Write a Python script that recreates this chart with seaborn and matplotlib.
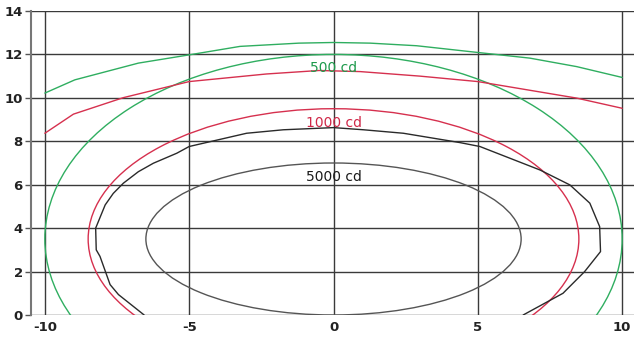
import matplotlib
matplotlib.use("Agg")
import matplotlib.pyplot as plt
from matplotlib.patches import Ellipse
import seaborn as sns
import pandas as pd

sns.set_theme(style="white")
plt.rcParams['font.family'] = ['DejaVu Sans']

# Ellipse isolux curves: (label, center_x, center_y, semi_x, semi_y)
ell_labels = ["500 cd", "1000 cd", "5000 cd"]
ell_cx = [0.0, 0.0, 0.0]
ell_cy = [3.5, 3.5, 3.5]
ell_ax = [10.0, 8.5, 6.5]
ell_by = [8.5, 6.0, 3.5]

# Measured polylines
green_x = [-10.0, -8.96, -6.76, -5.0, -3.24, -1.2, 0.0, 1.27, 2.88, 5.0, 6.8, 8.42, 10.0]
green_y = [10.22, 10.83, 11.6, 11.98, 12.37, 12.52, 12.55, 12.52, 12.4, 12.09, 11.83, 11.44, 10.94]

red_x = [-10.0, -9.01, -7.28, -5.0, -2.32, -0.5, 0.92, 3.0, 5.0, 8.42, 10.0]
red_y = [8.37, 9.25, 10.01, 10.75, 11.1, 11.26, 11.21, 11.0, 10.75, 9.99, 9.52]

black_x = [-6.56, -7.45, -7.74, -8.09, -8.22, -8.24, -7.91, -7.63, -7.28, -6.76, -6.24, -5.43, -5.0,
           -3.01, -1.74, 0.0, 1.04, 2.42, 4.38, 5.07, 7.15, 8.19, 8.88, 9.22, 9.25, 8.7, 7.95, 6.57]
black_y = [0.0, 0.94, 1.4, 2.7, 3.0, 4.0, 5.07, 5.6, 6.07, 6.6, 6.99, 7.45, 7.76,
           8.37, 8.53, 8.63, 8.53, 8.37, 7.94, 7.76, 6.68, 5.99, 5.15, 4.07, 2.92, 2.0, 1.0, 0.0]

x_ticks = [-10, -5, 0, 5, 10]
y_ticks = [0, 2, 4, 6, 8, 10, 12, 14]

label_x = [0.0, 0.0, 0.0]
label_y = [11.38, 8.85, 6.36]

GREEN = "#2fae60"
RED = "#d6304e"
BLACK = "#2a2a2a"
GRAY = "#555555"
ell_colors = [GREEN, RED, GRAY]
text_colors = ["#1e9a4c", "#d02848", "#1a1a1a"]

fig = plt.figure(figsize=(6.34, 3.38), dpi=100)
ax = fig.add_axes([31/634, 1 - 315/338, 1 - 31/634, (315 - 11)/338])
ax.set_xlim(-10.48, 10.41)
ax.set_ylim(0, 14)

# grid
for xv in x_ticks:
    ax.axvline(xv, color="#3a3a3a", lw=1.0, zorder=1)
for yv in y_ticks:
    ax.axhline(yv, color="#3a3a3a", lw=1.0, zorder=1)

for lab, cx, cy, a, b, c in zip(ell_labels, ell_cx, ell_cy, ell_ax, ell_by, ell_colors):
    ax.add_patch(Ellipse((cx, cy), 2 * a, 2 * b, fill=False, edgecolor=c, lw=1.0, zorder=3))

df_g = pd.DataFrame({"x": green_x, "y": green_y})
df_r = pd.DataFrame({"x": red_x, "y": red_y})
df_b = pd.DataFrame({"x": black_x, "y": black_y})
for d, c in [(df_g, GREEN), (df_r, RED), (df_b, BLACK)]:
    sns.lineplot(data=d, x="x", y="y", sort=False, estimator=None, color=c, lw=1.0, ax=ax, zorder=3)

for lab, lx, ly, tc in zip(ell_labels, label_x, label_y, text_colors):
    ax.text(lx, ly, lab, color=tc, fontsize=10, ha="center", va="center", zorder=4)

ax.set_xticks(x_ticks)
ax.set_yticks(y_ticks)
ax.set_xticklabels([str(v) for v in x_ticks], fontsize=9.5, fontweight="bold", color="#222222")
ax.set_yticklabels([str(v) for v in y_ticks], fontsize=9.5, fontweight="bold", color="#222222")
ax.tick_params(axis="x", length=0, pad=4)
ax.tick_params(axis="y", length=4, width=1, color="#555555", pad=2, left=True)
ax.set_xlabel("")
ax.set_ylabel("")
for s in ["top", "right", "bottom"]:
    ax.spines[s].set_visible(False)
ax.spines["left"].set_color("#777777")
ax.spines["left"].set_linewidth(1.5)

fig.savefig("out.png", dpi=100)
